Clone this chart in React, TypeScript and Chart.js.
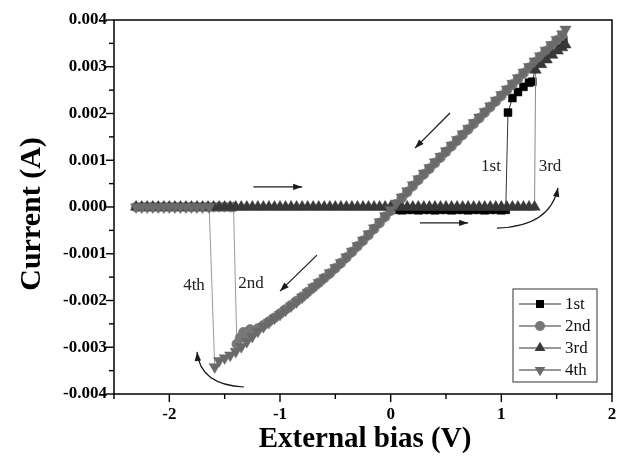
import React, { useEffect, useRef } from 'react';
import { Chart, registerables } from 'chart.js';

Chart.register(...registerables);

// ---- data (voltage in V, current in mA) ----
const v1 = [0.05, 0.10, 0.15, 0.20, 0.25, 0.30, 0.35, 0.40, 0.45, 0.50,
  0.55, 0.60, 0.65, 0.70, 0.75, 0.80, 0.85, 0.90, 0.95, 1.00,
  1.04, 1.06, 1.10, 1.15, 1.20, 1.25, 1.28, 1.32, 1.37, 1.42, 1.47, 1.52, 1.56];
const i1 = [-0.06, -0.07, -0.06, -0.06, -0.07, -0.06, -0.06, -0.07, -0.06, -0.06,
  -0.07, -0.06, -0.06, -0.07, -0.06, -0.06, -0.07, -0.06, -0.06, -0.07,
  -0.06, 2.02, 2.33, 2.46, 2.57, 2.66, 2.68, 3.08, 3.20, 3.30, 3.40, 3.50, 3.56];

const v2 = [1.55, 1.50, 1.45, 1.40, 1.35, 1.30, 1.25, 1.20, 1.15, 1.10,
  1.05, 1.00, 0.95, 0.90, 0.85, 0.80, 0.75, 0.70, 0.65, 0.60,
  0.55, 0.50, 0.45, 0.40, 0.35, 0.30, 0.25, 0.20, 0.15, 0.10,
  0.05, 0.00, -0.05, -0.10, -0.15, -0.20, -0.25, -0.30, -0.35, -0.40,
  -0.45, -0.50, -0.55, -0.60, -0.65, -0.70, -0.75, -0.80, -0.85, -0.90,
  -0.95, -1.00, -1.05, -1.10, -1.15,
  -1.20, -1.24, -1.27, -1.30, -1.33, -1.36, -1.39, -1.42,
  -1.45, -1.50, -1.55, -1.60, -1.65, -1.70, -1.75, -1.80, -1.85, -1.90,
  -1.95, -2.00, -2.05, -2.10, -2.15, -2.20, -2.25, -2.30];
const i2 = [3.66, 3.56, 3.44, 3.33, 3.21, 3.09, 2.98, 2.86, 2.74, 2.62,
  2.50, 2.38, 2.26, 2.14, 2.02, 1.90, 1.78, 1.66, 1.54, 1.42,
  1.30, 1.18, 1.06, 0.94, 0.82, 0.70, 0.58, 0.45, 0.32, 0.19,
  0.06, -0.08, -0.21, -0.34, -0.47, -0.60, -0.72, -0.84, -0.96, -1.08,
  -1.20, -1.31, -1.42, -1.52, -1.62, -1.72, -1.82, -1.92, -2.01, -2.10,
  -2.19, -2.28, -2.37, -2.45, -2.53,
  -2.60, -2.66, -2.62, -2.72, -2.68, -2.80, -2.93, 0.00,
  0.00, 0.00, 0.00, 0.00, 0.00, 0.00, 0.00, 0.00, 0.00, 0.00,
  0.00, 0.00, 0.00, 0.00, 0.00, 0.00, 0.00, 0.00];

const v3 = [-2.30, -2.25, -2.20, -2.15, -2.10, -2.05, -2.00, -1.95, -1.90, -1.85,
  -1.80, -1.75, -1.70, -1.65, -1.60, -1.55, -1.50, -1.45, -1.40, -1.35,
  -1.30, -1.25, -1.20, -1.15, -1.10, -1.05, -1.00, -0.95, -0.90, -0.85,
  -0.80, -0.75, -0.70, -0.65, -0.60, -0.55, -0.50, -0.45, -0.40, -0.35,
  -0.30, -0.25, -0.20, -0.15, -0.10, -0.05, 0.00, 0.05, 0.10, 0.15,
  0.20, 0.25, 0.30, 0.35, 0.40, 0.45, 0.50, 0.55, 0.60, 0.65,
  0.70, 0.75, 0.80, 0.85, 0.90, 0.95, 1.00, 1.05, 1.10, 1.15,
  1.20, 1.25, 1.30,
  1.31, 1.36, 1.41, 1.46, 1.51, 1.55, 1.58];
const i3 = [0.00, 0.00, 0.00, 0.00, 0.00, 0.00, 0.00, 0.00, 0.00, 0.00,
  0.00, 0.00, 0.00, 0.00, 0.00, 0.00, 0.00, 0.00, 0.00, 0.00,
  0.00, 0.00, 0.00, 0.00, 0.00, 0.00, 0.00, 0.00, 0.00, 0.00,
  0.00, 0.00, 0.00, 0.00, 0.00, 0.00, 0.00, 0.00, 0.00, 0.00,
  0.00, 0.00, 0.00, 0.00, 0.00, 0.00, 0.00, 0.00, 0.00, 0.00,
  0.00, 0.00, 0.00, 0.00, 0.00, 0.00, 0.00, 0.00, 0.00, 0.00,
  0.00, 0.00, 0.00, 0.00, 0.00, 0.00, 0.00, 0.00, 0.00, 0.00,
  0.00, 0.00, 0.00,
  2.93, 3.05, 3.15, 3.25, 3.34, 3.41, 3.47];

const v4 = [1.58, 1.55, 1.50, 1.45, 1.40, 1.35, 1.30, 1.25, 1.20, 1.15,
  1.10, 1.05, 1.00, 0.95, 0.90, 0.85, 0.80, 0.75, 0.70, 0.65,
  0.60, 0.55, 0.50, 0.45, 0.40, 0.35, 0.30, 0.25, 0.20, 0.15,
  0.10, 0.05, 0.00, -0.05, -0.10, -0.15, -0.20, -0.25, -0.30, -0.35,
  -0.40, -0.45, -0.50, -0.55, -0.60, -0.65, -0.70, -0.75, -0.80, -0.85,
  -0.90, -0.95, -1.00, -1.05, -1.10, -1.15, -1.20, -1.25, -1.30, -1.35,
  -1.40, -1.45, -1.50, -1.55, -1.59,
  -1.64, -1.70, -1.75, -1.80, -1.85, -1.90, -1.95, -2.00, -2.05, -2.10,
  -2.15, -2.20, -2.25, -2.30];
const i4 = [3.80, 3.70, 3.58, 3.47, 3.35, 3.23, 3.12, 3.00, 2.88, 2.76,
  2.64, 2.52, 2.40, 2.28, 2.16, 2.04, 1.92, 1.80, 1.68, 1.56,
  1.44, 1.32, 1.20, 1.08, 0.96, 0.84, 0.72, 0.60, 0.47, 0.34,
  0.21, 0.08, -0.06, -0.19, -0.32, -0.45, -0.58, -0.71, -0.83, -0.95,
  -1.07, -1.19, -1.30, -1.41, -1.52, -1.62, -1.72, -1.83, -1.93, -2.03,
  -2.12, -2.21, -2.30, -2.38, -2.47, -2.56, -2.66, -2.77, -2.88, -2.99,
  -3.09, -3.17, -3.23, -3.29, -3.42,
  0.00, 0.00, 0.00, 0.00, 0.00, 0.00, 0.00, 0.00, 0.00, 0.00,
  0.00, 0.00, 0.00, 0.00];

const seriesNames = ['1st', '2nd', '3rd', '4th'];
const xTickValues = [-2, -1, 0, 1, 2];
const yTickValues = [-0.004, -0.003, -0.002, -0.001, 0, 0.001, 0.002, 0.003, 0.004];

// annotations (data coordinates: V, A)
const straightArrows = [
  { from: [-1.24, 0.00043], to: [-0.80, 0.00043] },
  { from: [0.265, -0.00034], to: [0.70, -0.00034] },
  { from: [0.536, 0.00201], to: [0.22, 0.00126] },
  { from: [-0.666, -0.00103], to: [-1.0, -0.0018] },
];
const curvedArrows = [
  { from: [0.96, -0.00045], ctrl: [1.44, -0.00042], to: [1.512, 0.00041] },
  { from: [-1.325, -0.00385], ctrl: [-1.72, -0.00381], to: [-1.75, -0.0031] },
];
const textNotes = [
  { text: '1st', at: [0.907, 0.00086] },
  { text: '3rd', at: [1.44, 0.00086] },
  { text: '2nd', at: [-1.262, -0.00163] },
  { text: '4th', at: [-1.777, -0.00167] },
];

const colors = {
  s1: '#000000',
  s2: '#777777',
  s3: '#383838',
  s4: '#6a6a6a',
};

const SERIF = '"Liberation Serif", "Times New Roman", serif';

const pts = (v: number[], i: number[]) =>
  v.slice(0, Math.min(v.length, i.length)).map((x, k) => ({ x, y: i[k] * 1e-3 }));

function arrowHead(ctx: CanvasRenderingContext2D, x0: number, y0: number, x1: number, y1: number) {
  const ang = Math.atan2(y1 - y0, x1 - x0);
  const L = 9, W = 3.2;
  ctx.beginPath();
  ctx.moveTo(x1, y1);
  ctx.lineTo(x1 - L * Math.cos(ang) + W * Math.sin(ang), y1 - L * Math.sin(ang) - W * Math.cos(ang));
  ctx.lineTo(x1 - L * Math.cos(ang) - W * Math.sin(ang), y1 - L * Math.sin(ang) + W * Math.cos(ang));
  ctx.closePath();
  ctx.fill();
}

function marker(ctx: CanvasRenderingContext2D, kind: string, x: number, y: number, color: string) {
  ctx.fillStyle = color;
  ctx.beginPath();
  if (kind === 'rect') {
    ctx.rect(x - 4, y - 4, 8, 8);
  } else if (kind === 'circle') {
    ctx.arc(x, y, 5, 0, Math.PI * 2);
  } else if (kind === 'up') {
    const r = 6.2;
    ctx.moveTo(x, y - r);
    ctx.lineTo(x + r * 0.866, y + r / 2);
    ctx.lineTo(x - r * 0.866, y + r / 2);
    ctx.closePath();
  } else {
    const r = 6.2;
    ctx.moveTo(x, y + r);
    ctx.lineTo(x + r * 0.866, y - r / 2);
    ctx.lineTo(x - r * 0.866, y - r / 2);
    ctx.closePath();
  }
  ctx.fill();
}

const decorPlugin = {
  id: 'decor',
  afterDatasetsDraw(chart: any) {
    const { ctx, chartArea: a, scales } = chart;
    const xs = scales.x, ys = scales.y;
    const px = (v: number) => xs.getPixelForValue(v);
    const py = (v: number) => ys.getPixelForValue(v);
    ctx.save();

    // frame
    ctx.strokeStyle = '#000';
    ctx.lineWidth = 1.5;
    ctx.strokeRect(a.left, a.top, a.right - a.left, a.bottom - a.top);

    // ticks (major + minor, outward)
    ctx.lineWidth = 1.4;
    for (let k = 0; k <= 9; k++) {
      const v = -2.5 + k * 0.5;
      const major = Math.abs(v - Math.round(v)) < 1e-9;
      const x = px(v);
      ctx.beginPath();
      ctx.moveTo(x, a.bottom);
      ctx.lineTo(x, a.bottom + (major ? 8 : 5));
      ctx.stroke();
    }
    for (let k = 0; k <= 16; k++) {
      const v = -0.004 + k * 0.0005;
      const major = k % 2 === 0;
      const y = py(v);
      ctx.beginPath();
      ctx.moveTo(a.left, y);
      ctx.lineTo(a.left - (major ? 8 : 5), y);
      ctx.stroke();
    }

    // arrows
    ctx.strokeStyle = '#1a1a1a';
    ctx.fillStyle = '#1a1a1a';
    ctx.lineWidth = 1.2;
    for (const ar of straightArrows) {
      const x0 = px(ar.from[0]), y0 = py(ar.from[1]);
      const x1 = px(ar.to[0]), y1 = py(ar.to[1]);
      ctx.beginPath();
      ctx.moveTo(x0, y0);
      ctx.lineTo(x1, y1);
      ctx.stroke();
      arrowHead(ctx, x0, y0, x1, y1);
    }
    for (const ar of curvedArrows) {
      const x0 = px(ar.from[0]), y0 = py(ar.from[1]);
      const cx = px(ar.ctrl[0]), cy = py(ar.ctrl[1]);
      const x1 = px(ar.to[0]), y1 = py(ar.to[1]);
      ctx.beginPath();
      ctx.moveTo(x0, y0);
      ctx.quadraticCurveTo(cx, cy, x1, y1);
      ctx.stroke();
      arrowHead(ctx, cx, cy, x1, y1);
    }

    // text notes
    ctx.fillStyle = '#222';
    ctx.font = '17px ' + SERIF;
    ctx.textAlign = 'center';
    ctx.textBaseline = 'middle';
    for (const t of textNotes) {
      ctx.fillText(t.text, px(t.at[0]), py(t.at[1]));
    }

    // legend
    const lx = 513, ly = 289, lw = 84, lh = 93;
    ctx.fillStyle = '#fff';
    ctx.fillRect(lx, ly, lw, lh);
    ctx.strokeStyle = '#555';
    ctx.lineWidth = 1.2;
    ctx.strokeRect(lx, ly, lw, lh);
    const kinds = ['rect', 'circle', 'up', 'down'];
    const mcol = [colors.s1, colors.s2, colors.s3, colors.s4];
    const rows = [304, 326, 348, 370];
    ctx.font = '17px ' + SERIF;
    ctx.textAlign = 'left';
    ctx.textBaseline = 'middle';
    for (let k = 0; k < 4; k++) {
      const y = rows[k];
      ctx.strokeStyle = '#333';
      ctx.lineWidth = 1;
      ctx.beginPath();
      ctx.moveTo(lx + 6, y);
      ctx.lineTo(lx + 48, y);
      ctx.stroke();
      marker(ctx, kinds[k], lx + 27, y, mcol[k]);
      ctx.fillStyle = '#111';
      ctx.fillText(seriesNames[k], lx + 52, y + 1);
    }

    // axis titles
    ctx.fillStyle = '#000';
    ctx.font = 'bold 29px ' + SERIF;
    ctx.textAlign = 'center';
    ctx.textBaseline = 'middle';
    ctx.fillText('External bias (V)', (a.left + a.right) / 2 + 2, 440);
    ctx.save();
    ctx.translate(32, 214);
    ctx.rotate(-Math.PI / 2);
    ctx.font = 'bold 30px ' + SERIF;
    ctx.fillText('Current (A)', 0, 0);
    ctx.restore();

    ctx.restore();
  },
};

export default function App() {
  const ref = useRef<HTMLCanvasElement>(null);
  useEffect(() => {
    document.body.style.margin = '0';
    const canvas = ref.current;
    if (!canvas) return;
    const mk = (label: string, data: any[], color: string, line: string, style: string, rot: number, r: number, order: number) => ({
      label,
      data,
      borderColor: line,
      backgroundColor: color,
      pointBackgroundColor: color,
      pointBorderColor: color,
      pointBorderWidth: 0.5,
      borderWidth: 1,
      pointStyle: style,
      rotation: rot,
      pointRadius: r,
      tension: 0,
      fill: false,
      order,
    });
    const chart = new Chart(canvas, {
      type: 'line',
      data: {
        datasets: [
          mk(seriesNames[0], pts(v1, i1), colors.s1, '#333', 'rect', 0, 5.6, 4),
          mk(seriesNames[1], pts(v2, i2), colors.s2, '#999', 'circle', 0, 5, 3),
          mk(seriesNames[2], pts(v3, i3), colors.s3, '#888', 'triangle', 0, 6.5, 2),
          mk(seriesNames[3], pts(v4, i4), colors.s4, '#999', 'triangle', 180, 6.5, 1),
        ] as any,
      },
      options: {
        responsive: false,
        devicePixelRatio: 1,
        animation: false,
        events: [],
        layout: { padding: { left: 0, right: 15, top: 20, bottom: 0 } },
        plugins: { legend: { display: false }, tooltip: { enabled: false } },
        scales: {
          x: {
            type: 'linear',
            min: -2.5,
            max: 2,
            afterFit: (s: any) => { s.height = 62; },
            afterBuildTicks: (s: any) => { s.ticks = xTickValues.map((value) => ({ value })); },
            grid: { display: false, drawTicks: false },
            border: { display: false },
            ticks: {
              padding: 10,
              color: '#000',
              font: { family: SERIF, size: 17, weight: 'bold' },
              callback: (v: any) => String(Math.round(Number(v))),
              maxRotation: 0,
              autoSkip: false,
            },
          },
          y: {
            type: 'linear',
            min: -0.004,
            max: 0.004,
            afterFit: (s: any) => { s.width = 114; },
            afterBuildTicks: (s: any) => { s.ticks = yTickValues.map((value) => ({ value })); },
            grid: { display: false, drawTicks: false },
            border: { display: false },
            ticks: {
              padding: 7,
              color: '#000',
              font: { family: SERIF, size: 17, weight: 'bold' },
              callback: (v: any) => {
                const n = Number(v);
                if (Math.abs(n) < 1e-12) return '0.000';
                return n.toFixed(3);
              },
              autoSkip: false,
            },
          },
        },
      } as any,
      plugins: [decorPlugin],
    });
    return () => chart.destroy();
  }, []);
  return (
    <div style={{ width: 627, height: 456, background: '#fff' }}>
      <canvas ref={ref} width={627} height={456} style={{ display: 'block' }} />
    </div>
  );
}
